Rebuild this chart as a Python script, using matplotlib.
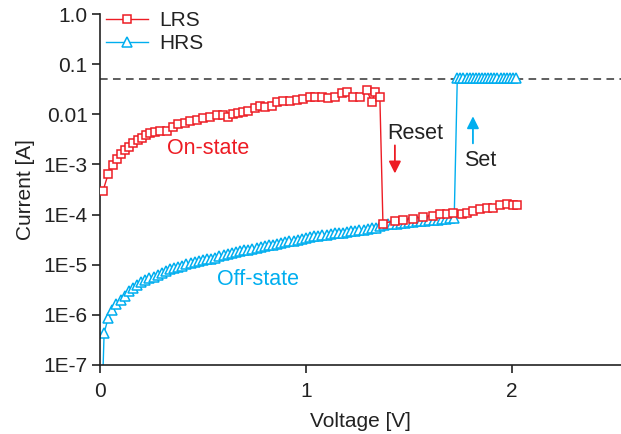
import numpy as np
import matplotlib
matplotlib.use("Agg")
import matplotlib.pyplot as plt
from matplotlib.ticker import FixedLocator, NullLocator

plt.rcParams['font.family'] = ['Liberation Sans', 'DejaVu Sans']

RED = '#ED1C24'
BLUE = '#00AEEF'

# LRS, on-state part (voltage, log10 current)
lrs_on_v = [0.015, 0.039, 0.063, 0.083, 0.102, 0.121, 0.141, 0.160, 0.184, 0.204,
            0.223, 0.243, 0.267, 0.291, 0.325, 0.354, 0.379, 0.413, 0.437, 0.471,
            0.500, 0.534, 0.568, 0.597, 0.621, 0.646, 0.670, 0.694, 0.718, 0.752,
            0.777, 0.801, 0.835, 0.859, 0.888, 0.922, 0.956, 0.985, 1.019, 1.044,
            1.078, 1.107, 1.141, 1.175, 1.199, 1.228, 1.262, 1.296, 1.320, 1.335,
            1.359]
lrs_on_log = [-3.52, -3.20, -3.02, -2.90, -2.80, -2.72, -2.66, -2.58, -2.52, -2.48,
              -2.42, -2.38, -2.36, -2.34, -2.34, -2.26, -2.20, -2.18, -2.14, -2.12,
              -2.08, -2.06, -2.02, -2.02, -2.06, -2.00, -1.98, -1.96, -1.94, -1.88,
              -1.84, -1.86, -1.84, -1.76, -1.74, -1.74, -1.72, -1.70, -1.66, -1.66,
              -1.66, -1.68, -1.66, -1.58, -1.56, -1.66, -1.66, -1.52, -1.76, -1.56,
              -1.66]
# LRS after reset
lrs_off_v = [1.374, 1.432, 1.471, 1.519, 1.568, 1.617, 1.650, 1.684, 1.714, 1.757,
             1.782, 1.811, 1.845, 1.879, 1.908, 1.942, 1.976, 2.005, 2.025]
lrs_off_log = [-4.18, -4.12, -4.10, -4.08, -4.04, -4.02, -3.98, -3.98, -3.96, -3.98,
               -3.96, -3.92, -3.88, -3.86, -3.86, -3.80, -3.78, -3.80, -3.80]

# HRS, off-state part
hrs_off_v = np.round(np.arange(0.02, 1.7201, 0.02), 2)
hrs_off_log = [-6.36, -6.06, -5.90, -5.78, -5.70, -5.62, -5.53, -5.46, -5.40, -5.35,
               -5.31, -5.27, -5.24, -5.20, -5.16, -5.12, -5.09, -5.06, -5.04, -5.02,
               -4.99, -4.97, -4.95, -4.93, -4.91, -4.89, -4.88, -4.86, -4.83, -4.80,
               -4.78, -4.76, -4.74, -4.72, -4.71, -4.70, -4.68, -4.66, -4.64, -4.62,
               -4.61, -4.60, -4.58, -4.56, -4.54, -4.53, -4.52, -4.50, -4.48, -4.46,
               -4.45, -4.43, -4.42, -4.41, -4.40, -4.38, -4.37, -4.37, -4.36, -4.35,
               -4.33, -4.32, -4.31, -4.30, -4.28, -4.27, -4.26, -4.22, -4.20, -4.19,
               -4.18, -4.18, -4.17, -4.16, -4.15, -4.14, -4.13, -4.12, -4.12, -4.11,
               -4.11, -4.10, -4.09, -4.08, -4.07, -4.07]
# HRS after set (compliance)
hrs_on_v = [1.735, 1.750, 1.765, 1.780, 1.795, 1.810, 1.825, 1.840, 1.855, 1.870,
            1.885, 1.900, 1.915, 1.930, 1.945, 1.960, 1.975, 1.990, 2.005, 2.020]
hrs_on_i = [0.052, 0.052, 0.052, 0.052, 0.052, 0.052, 0.052, 0.052, 0.052, 0.052,
            0.052, 0.052, 0.052, 0.052, 0.052, 0.052, 0.052, 0.052, 0.052, 0.052]

compliance = 0.05
ytick_vals = [1e-7, 1e-6, 1e-5, 1e-4, 1e-3, 1e-2, 1e-1, 1.0]
ytick_labels = ['1E-7', '1E-6', '1E-5', '1E-4', '1E-3', '0.01', '0.1', '1.0']

lrs_v = np.array(lrs_on_v + lrs_off_v)
lrs_i = 10.0 ** np.array(lrs_on_log + lrs_off_log)
# first HRS point sits below the axis (curve comes up from the bottom)
hrs_v = np.concatenate([[0.008], hrs_off_v, hrs_on_v])
hrs_i = np.concatenate([[1e-8], 10.0 ** np.array(hrs_off_log), hrs_on_i])

fig = plt.figure(figsize=(6.21, 4.34), dpi=100)
ax = fig.add_axes([100 / 621, 69 / 434, 521 / 621, 351 / 434])

ax.axhline(compliance, color='#333333', lw=1.1, ls=(0, (5, 3.5)), zorder=1)

ax.plot(lrs_v, lrs_i, color=RED, lw=1.0, marker='s', ms=6, mfc='white',
        mec=RED, mew=1.1, label='LRS', zorder=3)
ax.plot(hrs_v, hrs_i, color=BLUE, lw=1.0, marker='^', ms=7, mfc='white',
        mec=BLUE, mew=1.1, label='HRS', zorder=2)

ax.set_yscale('log')
ax.set_ylim(1e-7, 1.0)
ax.set_xlim(0, 2.53)
ax.yaxis.set_major_locator(FixedLocator(ytick_vals))
ax.yaxis.set_minor_locator(NullLocator())
ax.set_yticks(ytick_vals)
ax.set_yticklabels(ytick_labels)
ax.set_xticks([0, 1, 2])
ax.set_xticklabels(['0', '1', '2'])

for s in ['top', 'right']:
    ax.spines[s].set_visible(False)
for s in ['left', 'bottom']:
    ax.spines[s].set_linewidth(1.2)
    ax.spines[s].set_color('#222222')
ax.tick_params(axis='both', direction='out', length=6, width=1.2,
               color='#222222', labelsize=15, labelcolor='#222222', pad=3)
ax.tick_params(axis='x', pad=6)

ax.set_xlabel('Voltage [V]', fontsize=15, color='#222222', labelpad=8)
ax.set_ylabel('Current [A]', fontsize=15, color='#222222', labelpad=6)

ax.text(0.524, 10 ** -2.68, 'On-state', color=RED, fontsize=15.5,
        ha='center', va='center')
ax.text(0.767, 10 ** -5.30, 'Off-state', color=BLUE, fontsize=15.5,
        ha='center', va='center')
ax.text(1.53, 10 ** -2.38, 'Reset', color='#222222', fontsize=15.5,
        ha='center', va='center')
ax.text(1.845, 10 ** -2.92, 'Set', color='#222222', fontsize=15.5,
        ha='center', va='center')

ax.annotate('', xy=(1.432, 10 ** -3.18), xytext=(1.432, 10 ** -2.62),
            arrowprops=dict(arrowstyle='-|>', color=RED, lw=1.3,
                            mutation_scale=18, shrinkA=0, shrinkB=0))
ax.annotate('', xy=(1.811, 10 ** -2.04), xytext=(1.811, 10 ** -2.58),
            arrowprops=dict(arrowstyle='-|>', color=BLUE, lw=1.3,
                            mutation_scale=18, shrinkA=0, shrinkB=0))

leg = ax.legend(loc='upper left', bbox_to_anchor=(106 / 621, 1 - 11 / 434),
                bbox_transform=fig.transFigure, frameon=False, fontsize=15,
                borderpad=0, borderaxespad=0, handlelength=2.0,
                handletextpad=0.55, labelspacing=0.2)
for t in leg.get_texts():
    t.set_color('#222222')

fig.savefig('out.png', dpi=100)
